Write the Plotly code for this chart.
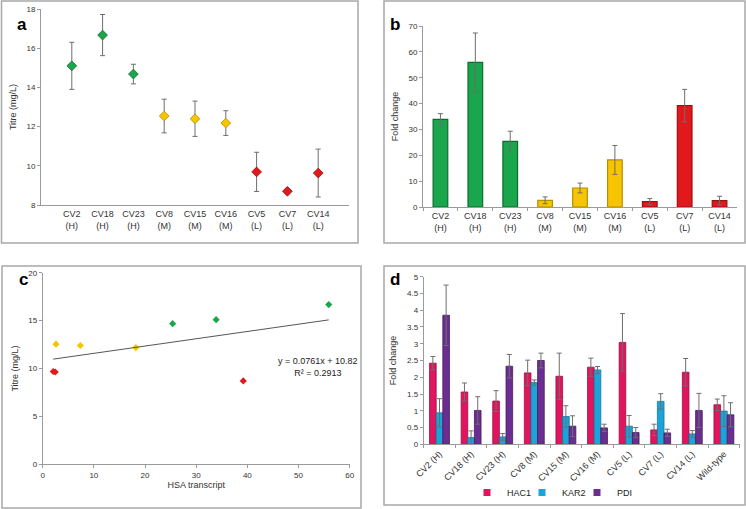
import plotly.graph_objects as go

W, H = 746, 509

# ---------------- data ----------------
strains = ["CV2", "CV18", "CV23", "CV8", "CV15", "CV16", "CV5", "CV7", "CV14"]
groups = ["H", "H", "H", "M", "M", "M", "L", "L", "L"]

titre = [15.1, 16.67, 14.68, 12.54, 12.4, 12.18, 9.69, 8.7, 9.63]
titre_err = [1.2, 1.05, 0.5, 0.86, 0.9, 0.63, 1.0, 0.12, 1.22]

hsa_fold = [33.9, 55.9, 25.4, 2.6, 7.35, 18.2, 2.06, 39.2, 2.45]
hsa_err = [2.2, 11.4, 3.9, 1.3, 1.9, 5.6, 1.2, 6.3, 1.7]

trend_slope = 0.0761
trend_intercept = 10.82
trend_r2 = 0.2913

upr_labels = ["CV2 (H)", "CV18 (H)", "CV23 (H)", "CV8 (M)", "CV15 (M)", "CV16 (M)",
              "CV5 (L)", "CV7 (L)", "CV14 (L)", "Wild-type"]
hac1 = [2.42, 1.56, 1.29, 2.13, 2.03, 2.30, 3.04, 0.43, 2.15, 1.18]
hac1_err = [0.2, 0.27, 0.31, 0.38, 0.69, 0.27, 0.86, 0.17, 0.41, 0.17]
kar2 = [0.94, 0.20, 0.22, 1.84, 0.83, 2.22, 0.54, 1.28, 0.31, 0.99]
kar2_err = [0.42, 0.2, 0.1, 0.08, 0.32, 0.1, 0.32, 0.23, 0.1, 0.46]
pdi = [3.85, 1.01, 2.33, 2.50, 0.54, 0.49, 0.35, 0.34, 1.01, 0.88]
pdi_err = [0.9, 0.41, 0.35, 0.22, 0.31, 0.11, 0.15, 0.11, 0.51, 0.36]

# ---------------- styles ----------------
FONT = "Liberation Sans, Arial, sans-serif"
group_fill = {"H": "#1aa64c", "M": "#f6c500", "L": "#e2191c"}
group_edge = {"H": "#0c6d30", "M": "#b78f00", "L": "#9e1010"}
fills = [group_fill[g] for g in groups]
edges = [group_edge[g] for g in groups]
cat_text = [f"{s}<br>({g})" for s, g in zip(strains, groups)]
ERR = dict(color="#6e6e6e", thickness=1, width=2.5)
TICKFONT = dict(family=FONT, size=8, color="#333333")
CATFONT = dict(family=FONT, size=9, color="#333333")
AXLINE = "#9a9a9a"


def px_x(p):
    return p / W


def px_y(p):
    return 1 - p / H


fig = go.Figure()

# ---------------- panel a ----------------
xpos = list(range(1, len(strains) + 1))
fig.add_trace(go.Scatter(
    x=xpos, y=titre, mode="markers", xaxis="x", yaxis="y",
    marker=dict(symbol="diamond", size=7.5, color=fills, line=dict(color=edges, width=0.8)),
    error_y=dict(type="data", array=titre_err, **ERR), showlegend=False))

# ---------------- panel b ----------------
fig.add_trace(go.Bar(
    x=strains, y=hsa_fold, xaxis="x2", yaxis="y2", width=0.42,
    marker=dict(color=fills, line=dict(color=edges, width=1.2)),
    error_y=dict(type="data", array=hsa_err, **ERR), showlegend=False))

# ---------------- panel c ----------------
fig.add_trace(go.Scatter(
    x=hsa_fold, y=titre, mode="markers", xaxis="x3", yaxis="y3",
    marker=dict(symbol="diamond", size=5.5, color=fills, line=dict(width=0)),
    showlegend=False))
xmin, xmax = min(hsa_fold), max(hsa_fold)
fig.add_trace(go.Scatter(
    x=[xmin, xmax], y=[trend_slope * xmin + trend_intercept, trend_slope * xmax + trend_intercept],
    mode="lines", xaxis="x3", yaxis="y3", line=dict(color="#555555", width=1),
    showlegend=False, hoverinfo="skip"))

# ---------------- panel d ----------------
d_series = [("HAC1", hac1, hac1_err, "#e1145f", "#9c0d40"),
            ("KAR2", kar2, kar2_err, "#1ca4d8", "#10779f"),
            ("PDI", pdi, pdi_err, "#6b2d90", "#48195f")]
for name, vals, errs, col, edge in d_series:
    fig.add_trace(go.Bar(
        x=upr_labels, y=vals, name=name, xaxis="x4", yaxis="y4",
        marker=dict(color=col, line=dict(color=edge, width=0.8)),
        error_y=dict(type="data", array=errs, **ERR), showlegend=False))
    fig.add_trace(go.Scatter(
        x=[None], y=[None], name=name, mode="markers", xaxis="x4", yaxis="y4",
        marker=dict(symbol="square", size=7, color=col), showlegend=True))

# ---------------- axes ----------------
common_y = dict(showgrid=False, zeroline=False, showline=True, linecolor=AXLINE, linewidth=1,
                ticks="outside", ticklen=3, tickcolor=AXLINE, tickfont=TICKFONT,
                automargin=False)
common_x = dict(showgrid=False, zeroline=False, showline=True, linecolor=AXLINE, linewidth=1,
                tickcolor=AXLINE, automargin=False)

fig.update_layout(
    width=W, height=H, margin=dict(l=0, r=0, t=0, b=0, autoexpand=False),
    paper_bgcolor="white", plot_bgcolor="white",
    font=dict(family=FONT, size=9, color="#333333"),
    bargap=0.37, bargroupgap=0,
    xaxis=dict(domain=[px_x(41), px_x(349)], anchor="y", range=[0, 10],
               tickvals=xpos, ticktext=cat_text, ticks="", tickfont=CATFONT, **common_x),
    yaxis=dict(domain=[px_y(205), px_y(9)], anchor="x", range=[8, 18], dtick=2,
               title=dict(text="Titre (mg/L)", font=dict(family=FONT, size=9), standoff=8),
               **common_y),
    xaxis2=dict(domain=[px_x(423), px_x(737)], anchor="y2", range=[-0.5, 8.5],
                tickvals=strains, ticktext=cat_text, ticks="outside", ticklen=3,
                tickson="boundaries", tickfont=CATFONT, **common_x),
    yaxis2=dict(domain=[px_y(207), px_y(26)], anchor="x2", range=[0, 70], dtick=10,
                title=dict(text="Fold change", font=dict(family=FONT, size=9), standoff=8),
                **common_y),
    xaxis3=dict(domain=[px_x(42.7), px_x(349.7)], anchor="y3", range=[0, 60], dtick=10,
                ticks="outside", ticklen=3,
                title=dict(text="HSA transcript", font=dict(family=FONT, size=9), standoff=2),
                tickfont=TICKFONT, **common_x),
    yaxis3=dict(domain=[px_y(464.3), px_y(272.7)], anchor="x3", range=[0, 20], dtick=5,
                title=dict(text="Titre (mg/L)", font=dict(family=FONT, size=9), standoff=8),
                **common_y),
    xaxis4=dict(domain=[px_x(423.7), px_x(739.7)], anchor="y4", range=[-0.5, 9.5],
                ticks="outside", ticklen=3, tickson="boundaries", tickangle=-45,
                tickfont=CATFONT, **common_x),
    yaxis4=dict(domain=[px_y(444.3), px_y(276.7)], anchor="x4", range=[0, 5], dtick=0.5,
                title=dict(text="Fold change", font=dict(family=FONT, size=9), standoff=8),
                **common_y),
    legend=dict(orientation="h", x=px_x(467), y=px_y(478), xanchor="left", yanchor="top",
                font=dict(family=FONT, size=9, color="#222222"),
                entrywidth=10, entrywidthmode="pixels", itemwidth=30,
                bgcolor="rgba(0,0,0,0)"),
)

# ---------------- panel frames & labels ----------------
boxes = [(1.5, 1, 358, 243), (384, 1, 745, 243), (2, 266, 361, 508), (384, 266, 745, 505)]
for x0, y0, x1, y1 in boxes:
    fig.add_shape(type="rect", xref="paper", yref="paper",
                  x0=px_x(x0), x1=px_x(x1), y0=px_y(y1), y1=px_y(y0),
                  line=dict(color="#a8a8a8", width=1.5), layer="below")

for lab, cx, cy in [("a", 15, 13), ("b", 395, 13), ("c", 17, 279), ("d", 395, 279)]:
    fig.add_annotation(text=f"<b>{lab}</b>", xref="paper", yref="paper",
                       x=px_x(cx), y=px_y(cy), showarrow=False,
                       font=dict(family=FONT, size=17, color="black"))

fig.add_annotation(text=f"y = {trend_slope}x + {trend_intercept}<br>R² = {trend_r2}",
                   xref="x3", yref="y3", x=53.8, y=10.2, showarrow=False,
                   font=dict(family=FONT, size=9, color="#222222"))

fig.write_html("out.html", config={"displayModeBar": False},
               post_script="document.body.style.margin='0';document.body.style.overflow='hidden';")
